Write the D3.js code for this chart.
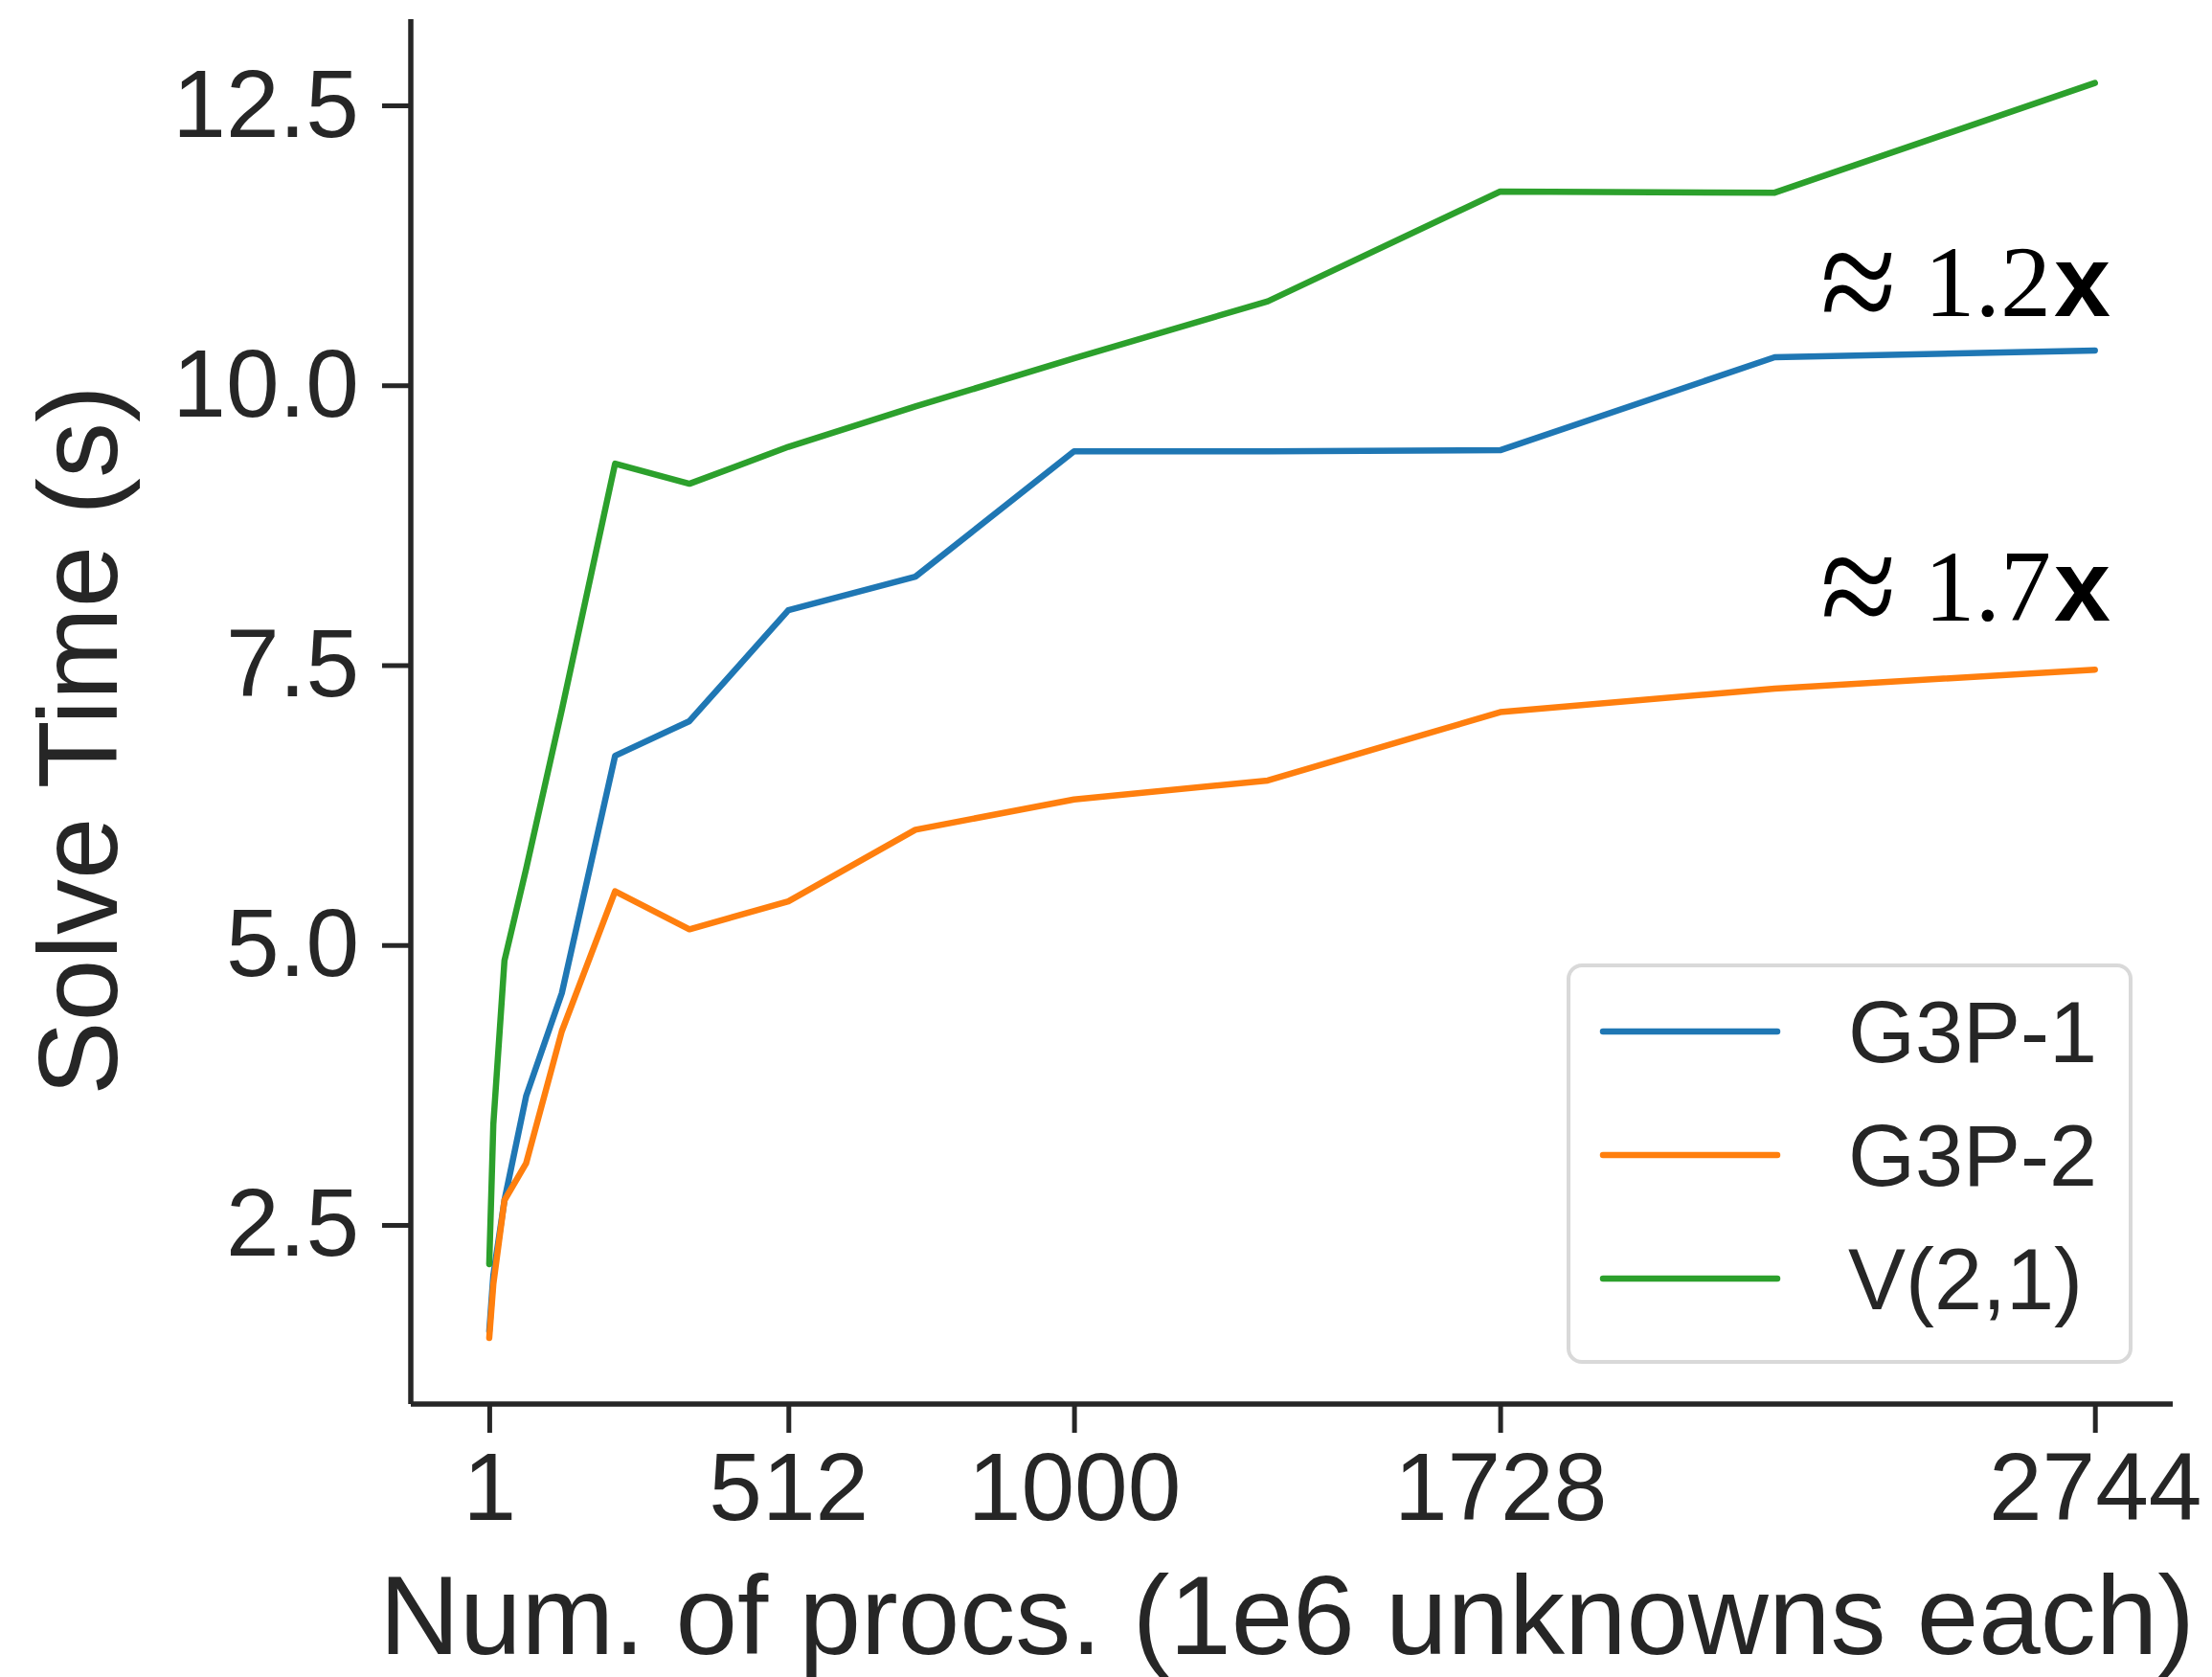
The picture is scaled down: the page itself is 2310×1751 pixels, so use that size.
<!DOCTYPE html>
<html>
<head>
<meta charset="utf-8">
<script src="https://cdn.jsdelivr.net/npm/d3@7"></script>
<style>
  html, body { margin: 0; padding: 0; background: #ffffff; }
  svg { display: block; }
</style>
</head>
<body>
<svg id="chart" width="2310" height="1751"></svg>
<script>
// ---- data ----
const procs = [1, 8, 27, 64, 125, 216, 343, 512, 729, 1000, 1331, 1728, 2197, 2744];
const seriesNames = ["G3P-1", "G3P-2", "V(2,1)"];
const g3p1 = [1.55, 2.05, 2.72, 3.65, 4.57, 6.69, 7.00, 7.99, 8.29, 9.41, 9.41, 9.42, 10.25, 10.31];
const g3p2 = [1.49, 1.97, 2.72, 3.05, 4.23, 5.48, 5.14, 5.39, 6.03, 6.30, 6.47, 7.08, 7.29, 7.46];
const v21  = [2.15, 3.40, 4.86, 5.68, 7.10, 9.30, 9.12, 9.45, 9.81, 10.24, 10.75, 11.73, 11.72, 12.70];
const xTicks = [1, 512, 1000, 1728, 2744];
const yTicks = [2.5, 5.0, 7.5, 10.0, 12.5];
const annotationLabels = ["1.2", "1.7"];
const colors = ["#1f77b4", "#ff7f0e", "#2ca02c"];

(function () {
// ---- layout ----
const svg = d3.select("#chart");
const mLeft = 429, mRight = 2269, mTop = 20, mBottom = 1466;
const textColor = "#262626";
const sans = "'Liberation Sans', Arial, Helvetica, sans-serif";
const serif = "'Liberation Serif', 'Times New Roman', serif";

const x = d3.scaleLinear().domain([-133, 2877]).range([mLeft, mRight]);
const y = d3.scaleLinear().domain([0.9, 13.27]).range([mBottom, mTop]);

// axes
const xAxis = d3.axisBottom(x).tickValues(xTicks).tickFormat(d3.format("d")).tickSize(30).tickPadding(20);
const yAxis = d3.axisLeft(y).tickValues(yTicks).tickFormat(d3.format(".1f")).tickSize(30).tickPadding(24);

const gx = svg.append("g").attr("transform", `translate(0,${mBottom})`).call(xAxis);
const gy = svg.append("g").attr("transform", `translate(${mLeft},0)`).call(yAxis);

[gx, gy].forEach(g => {
  g.select(".domain").attr("stroke", textColor).attr("stroke-width", 5.5);
  g.selectAll(".tick line").attr("stroke", textColor).attr("stroke-width", 5);
  g.selectAll(".tick text")
    .attr("fill", textColor)
    .attr("font-family", sans)
    .attr("font-size", 100);
});
gx.select(".domain").attr("d", `M${mLeft},0H${mRight}`);
gy.select(".domain").attr("d", `M0,${mTop}V${mBottom}`);
gx.selectAll(".tick text").attr("dy", "0.71em");

// axis labels
svg.append("text")
  .attr("x", (mLeft + mRight) / 2 - 5)
  .attr("y", 1727)
  .attr("text-anchor", "middle")
  .attr("font-family", sans)
  .attr("font-size", 116)
  .attr("fill", textColor)
  .text("Num. of procs. (1e6 unknowns each)");

svg.append("text")
  .attr("transform", "translate(122,773) rotate(-90)")
  .attr("text-anchor", "middle")
  .attr("font-family", sans)
  .attr("font-size", 116)
  .attr("fill", textColor)
  .text("Solve Time (s)");

// lines
const allSeries = [g3p1, g3p2, v21];
const line = d3.line().x((d, i) => x(procs[i])).y(d => y(d));
allSeries.forEach((s, k) => {
  svg.append("path")
    .datum(s)
    .attr("d", line)
    .attr("fill", "none")
    .attr("stroke", colors[k])
    .attr("stroke-width", 6.5)
    .attr("stroke-linejoin", "round")
    .attr("stroke-linecap", "round");
});

// annotations
const annBase = [330, 648];
annotationLabels.forEach((lab, i) => {
  const baseY = annBase[i];
  svg.append("g")
    .attr("transform", `translate(1901,${baseY - 28}) scale(1,1.15)`)
    .append("text")
    .attr("x", 0)
    .attr("y", 42)
    .attr("font-family", serif)
    .attr("font-size", 145)
    .attr("fill", "#000")
    .text("\u2248");
  svg.append("text")
    .attr("x", 2142)
    .attr("y", baseY)
    .attr("text-anchor", "end")
    .attr("font-family", serif)
    .attr("font-size", 106)
    .attr("fill", "#000")
    .text(lab);
  svg.append("text")
    .attr("x", 2145)
    .attr("y", baseY)
    .attr("font-family", sans)
    .attr("font-weight", "bold")
    .attr("font-size", 106)
    .attr("fill", "#000")
    .text("x");
});

// legend
const lg = svg.append("g");
lg.append("rect")
  .attr("x", 1638).attr("y", 1008)
  .attr("width", 587).attr("height", 414)
  .attr("rx", 14).attr("ry", 14)
  .attr("fill", "#ffffff").attr("fill-opacity", 0.8)
  .attr("stroke", "#d9d9d9").attr("stroke-width", 4);
const legendY = d3.scalePoint().domain(seriesNames).range([1077, 1335]);
seriesNames.forEach((n, k) => {
  const yy = legendY(n);
  lg.append("line")
    .attr("x1", 1674).attr("x2", 1856)
    .attr("y1", yy).attr("y2", yy)
    .attr("stroke", colors[k]).attr("stroke-width", 6.5)
    .attr("stroke-linecap", "round");
  lg.append("text")
    .attr("x", 1930).attr("y", yy)
    .attr("dy", "0.36em")
    .attr("font-family", sans)
    .attr("font-size", 90)
    .attr("fill", textColor)
    .text(n);
});
})();
</script>
</body>
</html>
